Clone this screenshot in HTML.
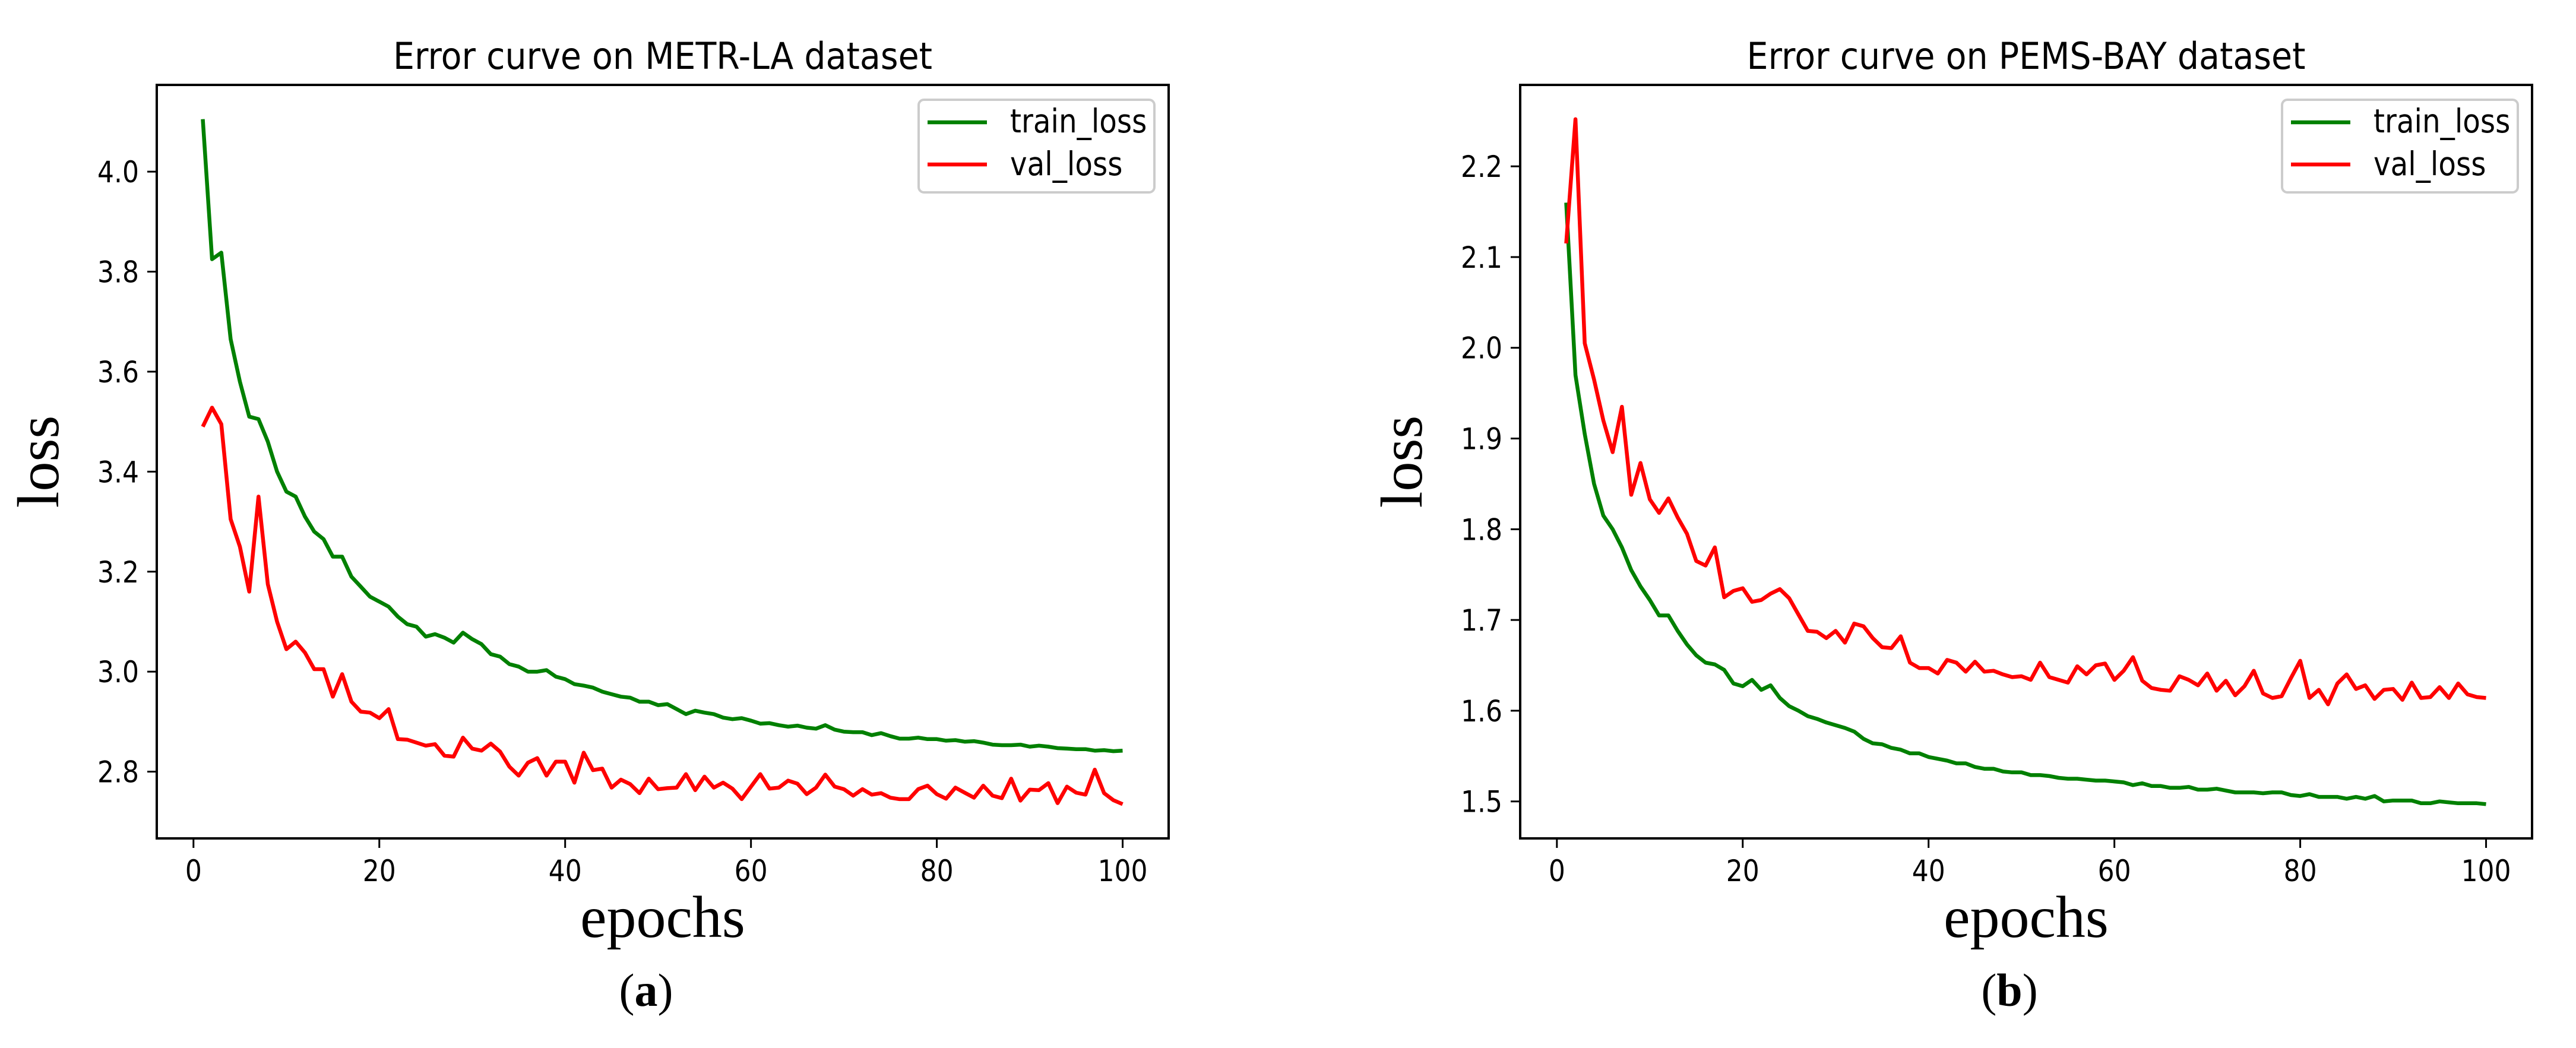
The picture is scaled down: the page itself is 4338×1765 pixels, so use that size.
<!DOCTYPE html>
<html><head><meta charset="utf-8"><style>
html,body{margin:0;padding:0;background:#fff}
svg{display:block}
.tk{font-family:"DejaVu Sans","Liberation Sans",sans-serif;font-size:50px;fill:#000}
.tt{font-family:"DejaVu Sans","Liberation Sans",sans-serif;font-size:55px;fill:#000}
.ti{font-family:"DejaVu Sans","Liberation Sans",sans-serif;font-size:62px;fill:#000}
.lab{font-family:"Liberation Serif","DejaVu Serif",serif;font-size:100px;fill:#000}
.cap{font-family:"Liberation Serif","DejaVu Serif",serif;font-size:78px;fill:#000}
</style></head><body>
<svg id="s" width="4338" height="1765" viewBox="0 0 4338 1765" xmlns="http://www.w3.org/2000/svg"></svg>
<script>
const aTrain=[4.105,3.825,3.838,3.665,3.58,3.51,3.505,3.46,3.40,3.36,3.35,3.31,3.28,3.265,3.23,3.23,3.19,3.17,3.15,3.14,3.13,3.11,3.095,3.09,3.07,3.075,3.068,3.058,3.078,3.065,3.055,3.035,3.03,3.015,3.01,3.0,3.0,3.003,2.99,2.985,2.975,2.972,2.968,2.96,2.955,2.95,2.948,2.94,2.94,2.933,2.935,2.925,2.915,2.922,2.918,2.915,2.908,2.905,2.907,2.902,2.896,2.897,2.893,2.89,2.892,2.888,2.886,2.893,2.884,2.88,2.879,2.879,2.873,2.877,2.871,2.866,2.866,2.868,2.865,2.865,2.862,2.863,2.860,2.861,2.858,2.854,2.853,2.853,2.854,2.850,2.852,2.850,2.847,2.846,2.845,2.845,2.842,2.843,2.841,2.842];
const aVal=[3.49,3.528,3.495,3.305,3.25,3.16,3.35,3.175,3.10,3.045,3.06,3.038,3.005,3.005,2.95,2.995,2.94,2.92,2.918,2.907,2.925,2.865,2.864,2.858,2.852,2.855,2.832,2.83,2.868,2.846,2.842,2.856,2.84,2.81,2.792,2.818,2.827,2.792,2.82,2.82,2.778,2.838,2.803,2.806,2.768,2.784,2.775,2.757,2.786,2.765,2.767,2.768,2.795,2.763,2.79,2.768,2.778,2.766,2.745,2.77,2.795,2.766,2.768,2.782,2.776,2.755,2.768,2.794,2.77,2.765,2.752,2.765,2.754,2.757,2.748,2.745,2.745,2.765,2.772,2.755,2.746,2.768,2.758,2.748,2.772,2.752,2.747,2.786,2.742,2.764,2.763,2.777,2.737,2.77,2.758,2.754,2.804,2.757,2.743,2.735];
const bTrain=[2.16,1.97,1.905,1.85,1.815,1.80,1.78,1.755,1.737,1.722,1.705,1.705,1.688,1.673,1.661,1.653,1.651,1.645,1.630,1.627,1.634,1.623,1.628,1.614,1.605,1.60,1.594,1.591,1.587,1.584,1.581,1.577,1.569,1.564,1.563,1.559,1.557,1.553,1.553,1.549,1.547,1.545,1.542,1.542,1.538,1.536,1.536,1.533,1.532,1.532,1.529,1.529,1.528,1.526,1.525,1.525,1.524,1.523,1.523,1.522,1.521,1.518,1.520,1.517,1.517,1.515,1.515,1.516,1.513,1.513,1.514,1.512,1.510,1.510,1.510,1.509,1.510,1.510,1.507,1.506,1.508,1.505,1.505,1.505,1.503,1.505,1.503,1.506,1.500,1.501,1.501,1.501,1.498,1.498,1.500,1.499,1.498,1.498,1.498,1.497];
const bVal=[2.115,2.252,2.005,1.965,1.92,1.885,1.935,1.838,1.873,1.833,1.818,1.834,1.813,1.795,1.765,1.760,1.780,1.725,1.732,1.735,1.72,1.722,1.729,1.734,1.724,1.706,1.688,1.687,1.68,1.688,1.675,1.696,1.693,1.68,1.67,1.669,1.682,1.653,1.647,1.647,1.641,1.656,1.653,1.643,1.654,1.643,1.644,1.64,1.637,1.638,1.634,1.653,1.637,1.634,1.631,1.649,1.640,1.65,1.652,1.634,1.644,1.659,1.633,1.625,1.623,1.622,1.638,1.634,1.628,1.641,1.622,1.633,1.617,1.627,1.644,1.619,1.614,1.616,1.636,1.655,1.614,1.623,1.607,1.630,1.640,1.624,1.628,1.613,1.623,1.624,1.612,1.631,1.614,1.615,1.626,1.614,1.630,1.618,1.615,1.614];
const xTicks=[0,20,40,60,80,100];
const aYTicks=[2.8,3.0,3.2,3.4,3.6,3.8,4.0];
const bYTicks=[1.5,1.6,1.7,1.8,1.9,2.0,2.1,2.2];
const aTitle="Error curve on METR-LA dataset";
const bTitle="Error curve on PEMS-BAY dataset";

const NS="http://www.w3.org/2000/svg";
const svg=document.getElementById('s');
function mk(tag,attrs,parent,text){const e=document.createElementNS(NS,tag);for(const k in attrs)e.setAttribute(k,attrs[k]);if(text!==undefined)e.textContent=text;(parent||svg).appendChild(e);return e;}
function sqText(x,y,anchor,cls,str,parent,sq){
  return mk('text',{x:0,y:0,'text-anchor':anchor,class:cls,transform:`translate(${x},${y}) scale(${sq||0.88},1)`},parent,str);
}

function chart(off,train,val,yTicks,title,cap,id){
  const L=264+off,R=1968+off,T=143,B=1412;
  const all=train.concat(val);const mn=Math.min(...all),mx=Math.max(...all);
  const n=Math.max(train.length,val.length);
  const xm=(n-1)*0.05, x0=1-xm, x1=n+xm;
  const ym=(mx-mn)*0.05, y0=mn-ym, y1=mx+ym;
  const sx=v=>L+(v-x0)/(x1-x0)*(R-L);
  const sy=v=>B-(v-y0)/(y1-y0)*(B-T);
  const g=mk('g',{});
  
  
  const t=sqText((L+R)/2,116,'middle','ti',title,g,0.92);
  
  
  xTicks.forEach(v=>{
    const x=sx(v);
    const tl=mk('line',{x1:x,x2:x,y1:B,y2:B+16,stroke:'#000','stroke-width':3},g);
    
    
    const tx=sqText(x,1484,'middle','tk',String(v),g);
    
    
  });
  yTicks.forEach(v=>{
    const y=sy(v);
    const tl=mk('line',{x1:L-16,x2:L,y1:y,y2:y,stroke:'#000','stroke-width':3},g);
    
    
    const tx=sqText(L-30,y+18,'end','tk',v.toFixed(1),g);
    
    
  });
  const series=[[train,'#008000','train'],[val,'#ff0000','val']];
  series.forEach(([d,c,nm])=>{
    const p=d.map((v,i)=>(i?'L':'M')+sx(i+1).toFixed(1)+' '+sy(v).toFixed(1)).join(' ');
    const pe=mk('path',{d:p,fill:'none',stroke:c,'stroke-width':6.5,'stroke-linejoin':'round'},g);
    
    
  });
  const fr=mk('rect',{x:L,y:T,width:R-L,height:B-T,fill:'none',stroke:'#000','stroke-width':4},g);
  
  
  const lg=mk('g',{},g);
  
  
  const lx=1547+off;
  mk('rect',{x:lx,y:168,width:397,height:156,rx:9,fill:'#fff','fill-opacity':0.8,stroke:'#cccccc','stroke-width':4},lg);
  [['train_loss','#008000',206,223],['val_loss','#ff0000',277,295]].forEach(([lab,c,ly,by])=>{
    const ll=mk('line',{x1:lx+15,x2:lx+115,y1:ly,y2:ly,stroke:c,'stroke-width':6.5},lg);
    
    
    const lt=sqText(lx+154,by,'start','tt',lab,lg);
    
    
  });
  const yl=mk('text',{x:0,y:0,'text-anchor':'middle',class:'lab',transform:`translate(${L-166},${(T+B)/2}) rotate(-90)`},g,'loss');
  
  
  const xl=mk('text',{x:(L+R)/2,y:1578,'text-anchor':'middle',class:'lab'},g,'epochs');
  
  
  const cp=mk('text',{x:(L+R)/2-28,y:1694,'text-anchor':'middle',class:'cap'},g);
  
  
  mk('tspan',{},cp,'(');
  mk('tspan',{'font-weight':'bold'},cp,cap);
  mk('tspan',{},cp,')');
}
chart(0,aTrain,aVal,aYTicks,aTitle,'a','metr-la');
chart(2296,bTrain,bVal,bYTicks,bTitle,'b','pems-bay');
</script>
</body></html>
